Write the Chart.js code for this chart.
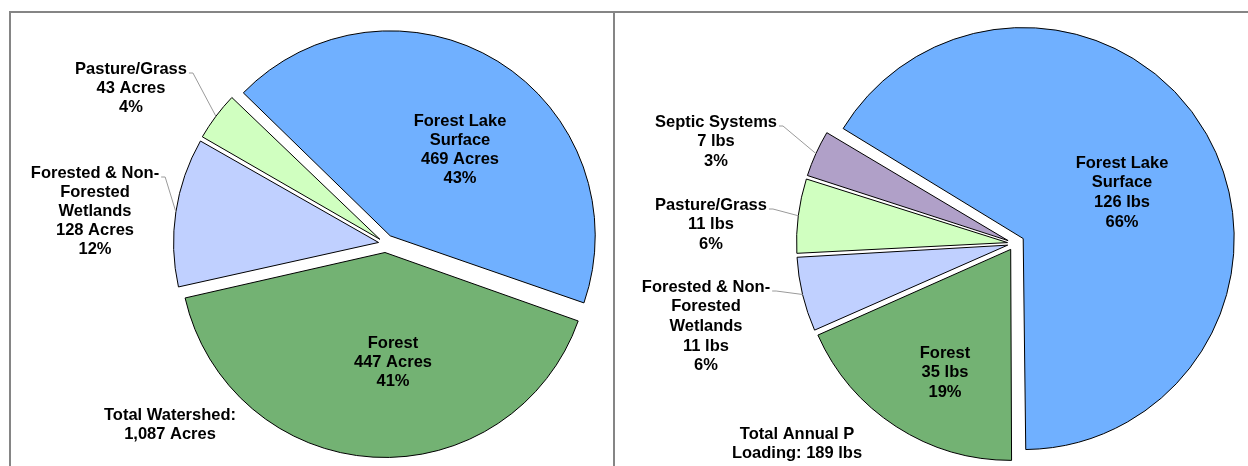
<!DOCTYPE html>
<html>
<head>
<meta charset="utf-8">
<script src="https://cdn.jsdelivr.net/npm/chart.js@4.4.0/dist/chart.umd.min.js"></script>
<style>
  body { margin: 0; background: #fff; width: 1248px; height: 466px; overflow: hidden; position: relative; }
  canvas { position: absolute; top: 0; }
  .rule { position: absolute; background: #858585; }
</style>
</head>
<body>
<canvas id="landChart" width="612" height="466" style="left:0"></canvas>
<canvas id="loadChart" width="632" height="466" style="left:616px"></canvas>
<div class="rule" style="left:9px;top:11px;width:1239px;height:2px"></div>
<div class="rule" style="left:9px;top:11px;width:2px;height:455px"></div>
<div class="rule" style="left:613px;top:11px;width:2px;height:455px"></div>
<script>
// Land use (left pie)
var landNames = [['Forest Lake', 'Surface'], ['Forest'], ['Forested & Non-', 'Forested', 'Wetlands'], ['Pasture/Grass']];
var landAcres = [469, 447, 128, 43];
var landPct = [43, 41, 12, 4];
var landTotal = ['Total Watershed:', '1,087 Acres'];

// Phosphorus load (right pie)
var loadNames = [['Forest Lake', 'Surface'], ['Forest'], ['Forested & Non-', 'Forested', 'Wetlands'], ['Pasture/Grass'], ['Septic Systems']];
var loadLbs = [126, 35, 11, 11, 7];
var loadPct = [66, 19, 6, 6, 3];
var loadTotal = ['Total Annual P', 'Loading: 189 lbs'];

var landColors = ['#70B0FF', '#73B273', '#C0D0FF', '#D0FFC0'];
var loadColors = ['#70B0FF', '#73B273', '#C0D0FF', '#D0FFC0', '#B0A0C8'];

var FONT = 'bold 16.5px "Liberation Sans", Arial, sans-serif';

function buildLines(names, vals, pct, unit) {
  return names.map(function (n, i) {
    return n.concat([vals[i] + ' ' + unit, pct[i] + '%']);
  });
}

function arcFix(arc) {
  return 1 - Math.sin(Math.min(Math.PI, arc.circumference));
}

var pieLabels = {
  id: 'pieLabels',
  afterDatasetsUpdate: function (chart) {
    // chart.js makes offset slices bigger, take that back so all slices share one radius
    chart.getDatasetMeta(0).data.forEach(function (arc) {
      var off = (arc.options.offset || 0) / 4;
      arc.outerRadius -= off * arcFix(arc);
    });
  },
  afterDraw: function (chart) {
    var cfg = chart.options.plugins.pieLabels;
    var ctx = chart.ctx;
    var meta = chart.getDatasetMeta(0);
    ctx.save();
    ctx.font = FONT;
    ctx.textAlign = 'center';
    ctx.textBaseline = 'middle';
    cfg.texts.forEach(function (lines, i) {
      var p = cfg.pos[i];
      var x = p[0] - cfg.left, y = p[1];
      ctx.fillStyle = '#000';
      lines.forEach(function (t, k) { ctx.fillText(t, x, y + k * cfg.lh); });
      if (p[2]) {
        var arc = meta.data[i];
        var mid = (arc.startAngle + arc.endAngle) / 2;
        var off = arc.options.offset / 4;
        var r = arc.outerRadius + off * arcFix(arc);
        var ex = arc.x + Math.cos(mid) * (off + r);
        var ey = arc.y + Math.sin(mid) * (off + r);
        var sx = x + ctx.measureText(lines[0]).width / 2 + 2;
        var sy = y + 4;
        ctx.strokeStyle = '#9a9a9a';
        ctx.lineWidth = 1;
        ctx.beginPath();
        ctx.moveTo(sx, sy);
        ctx.lineTo(sx + 4, sy);
        ctx.lineTo(ex, ey);
        ctx.stroke();
      }
    });
    ctx.fillStyle = '#000';
    cfg.total.forEach(function (t, k) { ctx.fillText(t, cfg.totalPos[0] - cfg.left, cfg.totalPos[1] + k * cfg.lh); });
    ctx.restore();
  }
};

function makePie(id, values, colors, offsets, rotation, radius, pad, labelCfg) {
  return new Chart(document.getElementById(id), {
    type: 'pie',
    data: {
      labels: labelCfg.texts.map(function (l) { return l[0]; }),
      datasets: [{
        data: values,
        backgroundColor: colors,
        borderColor: '#000',
        borderWidth: 1,
        offset: offsets
      }]
    },
    options: {
      responsive: false,
      animation: false,
      rotation: rotation,
      radius: radius,
      layout: { padding: pad },
      plugins: {
        legend: { display: false },
        tooltip: { enabled: false },
        pieLabels: labelCfg
      }
    },
    plugins: [pieLabels]
  });
}

makePie('landChart', landAcres, landColors, [36, 36, 28, 28], -46, 205,
  { left: 159, top: 21, right: 0, bottom: 0 },
  {
    left: 0, lh: 19,
    texts: buildLines(landNames, landAcres, landPct, 'Acres'),
    pos: [[460, 121], [393, 343], [95, 173, true], [131, 69, true]],
    total: landTotal, totalPos: [170, 415]
  });

makePie('loadChart', loadLbs, loadColors, [40, 28, 28, 28, 28], -59, 211,
  { left: 165, top: 21, right: 0, bottom: 0 },
  {
    left: 616, lh: 19.7,
    texts: buildLines(loadNames, loadLbs, loadPct, 'lbs'),
    pos: [[1122, 163], [945, 353], [706, 287, true], [711, 205, true], [716, 122, true]],
    total: loadTotal, totalPos: [797, 434]
  });
</script>
</body>
</html>
